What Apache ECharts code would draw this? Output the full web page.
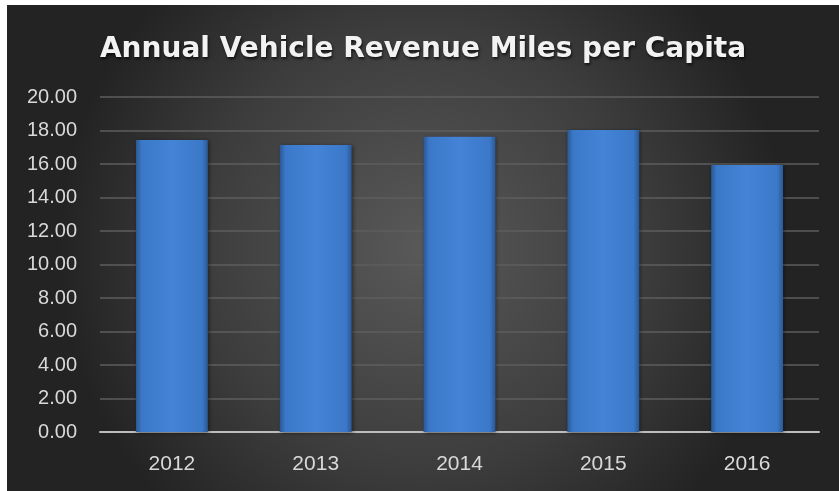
<!DOCTYPE html>
<html>
<head>
<meta charset="utf-8">
<script src="https://cdn.jsdelivr.net/npm/echarts@6/dist/echarts.min.js"></script>
<style>
html,body{margin:0;padding:0;background:#fff;width:839px;height:491px;overflow:hidden;}
#c{position:absolute;left:7px;top:5px;width:832px;height:486px;}
</style>
</head>
<body>
<div id="c"></div>
<script>
const titleText = 'Annual Vehicle Revenue Miles per Capita';
const categories = ['2012', '2013', '2014', '2015', '2016'];
const values = [17.43, 17.13, 17.63, 18.03, 15.94];
const yMin = 0, yMax = 20, yStep = 2;

const chart = echarts.init(document.getElementById('c'), null, {renderer: 'canvas'});
chart.setOption({
  animation: false,
  backgroundColor: {
    type: 'radial', x: 0.5, y: 0.5, r: 0.75,
    colorStops: [
      {offset: 0, color: '#595959'},
      {offset: 0.6, color: '#3d3d3d'},
      {offset: 1, color: '#232323'}
    ]
  },
  title: {
    text: titleText,
    left: 'center',
    top: 26,
    textStyle: {
      fontFamily: 'DejaVu Sans',
      fontWeight: 'bold',
      fontSize: 28,
      color: '#f2f2f2',
      textShadowColor: 'rgba(0,0,0,0.7)',
      textShadowBlur: 3,
      textShadowOffsetX: 1,
      textShadowOffsetY: 2
    }
  },
  grid: {left: 93, right: 20, top: 92, bottom: 59, containLabel: false},
  xAxis: {
    type: 'category',
    data: categories,
    axisTick: {show: false},
    axisLine: {lineStyle: {color: '#bdbdbd', width: 2}},
    axisLabel: {color: '#d9d9d9', fontSize: 21, fontFamily: 'Liberation Sans', margin: 22}
  },
  yAxis: {
    type: 'value',
    min: yMin, max: yMax, interval: yStep,
    axisLine: {show: false},
    axisTick: {show: false},
    splitLine: {lineStyle: {color: '#5e5e5e', width: 1.5}},
    axisLabel: {
      color: '#d9d9d9', fontSize: 20, fontFamily: 'Liberation Sans', margin: 23,
      formatter: v => v.toFixed(2)
    }
  },
  series: [{
    type: 'bar',
    data: values,
    barWidth: '50%',
    itemStyle: {
      color: {
        type: 'linear', x: 0, y: 0, x2: 1, y2: 0,
        colorStops: [
          {offset: 0, color: '#2b5893'},
          {offset: 0.08, color: '#3b78c8'},
          {offset: 0.5, color: '#4483d6'},
          {offset: 0.92, color: '#3b78c8'},
          {offset: 1, color: '#2b5893'}
        ]
      },
      shadowColor: 'rgba(0,0,0,0.5)',
      shadowBlur: 4,
      shadowOffsetX: 1,
      shadowOffsetY: 1
    }
  }]
});
</script>
</body>
</html>
